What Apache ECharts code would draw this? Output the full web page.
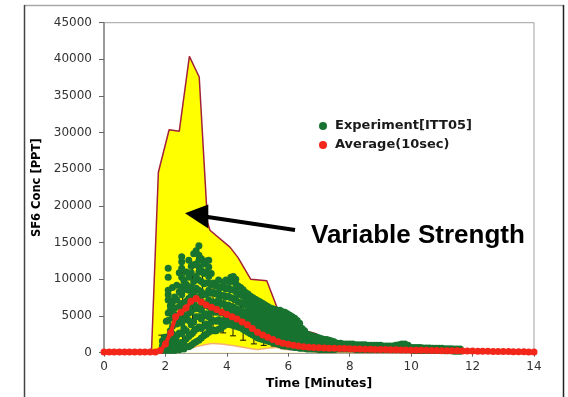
<!DOCTYPE html>
<html><head><meta charset="utf-8">
<script src="https://cdn.jsdelivr.net/npm/echarts@6/dist/echarts.min.js"></script>
<style>html,body{margin:0;padding:0;background:#fff}#c{width:568px;height:397px}</style>
</head><body><div id="c"></div>
<script>
// ---- data (minutes, PPT) ----
const envHiT = [0, 1.45, 1.55, 1.77, 2.12, 2.45, 2.78, 3.1, 3.37, 3.45, 4.1, 4.36, 4.78, 5.3, 5.65, 5.95, 6.3, 6.9, 7.25, 8.0, 9.0, 10.0, 12.0, 14.0];
const envHiV = [300, 300, 500, 24600, 30400, 30200, 40400, 37600, 17800, 16700, 14400, 13000, 10000, 9800, 6000, 4000, 3300, 2600, 1700, 700, 550, 450, 300, 200];
const envLoT = [0, 2.4, 2.6, 2.9, 3.2, 3.55, 3.9, 4.3, 4.7, 5.0, 5.3, 5.6, 5.9, 6.3, 6.7, 7.0, 14.0];
const envLoV = [0, 0, 300, 700, 1000, 1250, 1150, 900, 600, 450, 600, 700, 450, 400, 200, 0, 0];

const avgT = [0,0.17,0.33,0.5,0.67,0.83,1,1.17,1.33,1.5,1.67,1.83,2,2.17,2.33,2.5,2.67,2.83,3,3.17,3.33,3.5,3.67,3.83,4,4.17,4.33,4.5,4.67,4.83,5,5.17,5.33,5.5,5.67,5.83,6,6.17,6.33,6.5,6.67,6.83,7,7.17,7.33,7.5,7.67,7.83,8,8.17,8.33,8.5,8.67,8.83,9,9.17,9.33,9.5,9.67,9.83,10,10.17,10.33,10.5,10.67,10.83,11,11.17,11.33,11.5,11.67,11.83,12,12.17,12.33,12.5,12.67,12.83,13,13.17,13.33,13.5,13.67,13.83,14];
const avgV = [100,100,100,100,100,100,100,100,100,100,100,300,1200,2700,4900,5500,6100,7000,7400,6900,6500,6200,5900,5500,5200,4900,4600,4200,3800,3300,2800,2400,2100,1800,1500,1300,1150,1000,900,820,760,720,680,650,620,600,580,560,540,520,500,480,460,450,440,420,400,390,380,360,350,340,330,320,300,290,280,270,260,250,240,230,220,210,200,190,180,170,160,150,140,130,120,110,100];

const errT  = [1.87, 2.23, 2.56, 2.88, 3.21, 3.55, 3.88, 4.2, 4.53, 4.88, 5.2, 5.53, 5.84, 6.14, 6.45];
const errLo = [0, 0, 400, 2400, 2200, 2600, 2700, 2300, 1700, 1200, 1000, 900, 550, 400, 300];
const errHi = [2400, 7400, 11000, 11700, 11000, 9200, 7900, 7300, 6300, 4800, 3600, 2700, 1600, 1400, 1000];

const expT = [1.90,1.97,2.03,2.09,2.16,2.23,2.30,2.37,2.45,2.53,2.60,2.68,2.76,2.84,2.92,3.00,3.09,3.17,3.25,3.33,3.41,3.49,3.57,3.65,3.73,3.81,3.89,3.97,4.05,4.13,4.21,4.29,4.37,4.45,4.53,4.61,4.69,4.77,4.85,4.93,5.01,5.09,5.17,5.25,5.33,5.41,5.49,5.57,5.65,5.73,5.81,5.89,5.97,6.05,6.13,6.21,6.29,6.37,6.45,6.53,6.61,6.69,6.77,6.85,6.93,7.01,7.09,7.17,7.25,7.33,7.41,7.49,7.6,7.7,7.8,7.9,8.0,8.1,8.2,8.3,8.4,8.5,8.6,8.7,8.8,8.9,9.0,9.1,9.2,9.3,9.4,9.5,9.6,9.7,9.8,9.9,10.0,10.1,10.2,10.3,10.4,10.5,10.6,10.7,10.8,10.9,11.0,11.1,11.2,11.3,11.4,11.5,11.6];
const expV = [
[300,900,1600],[500,1300,2100],[300,1000,1800,4300],[600,1400,2200,4400,5400,7200,7900,8500,10300,11500],
[300,1100,1900,3000,5800,6400],[500,1300,2600,3600,4800,6900,8900],[300,900,1700,5200,6100,7600],[600,1500,2300,3900,7200,9200],
[400,1100,2700,4700,6300,8300,10900],[700,1400,2600,4000,5600,6700,7900,9000,10300,11500,12400,13100],[500,1500,3300,4500,6100,8600,9800],
[800,1900,3000,5000,7000,9300,11000],[800,2200,4400,5400,6300,7400,8500,10300,12600],[1000,2500,3800,5600,7700,9000,10900,11800],
[1300,2900,4200,6600,8200,9700,12000,13500],[1500,3200,4900,6000,7300,8800,10400,12100,13900],
[1700,3500,4900,6300,7600,8500,9900,11000,11700,12600,13300,14600],[2000,3300,4600,5800,7000,8300,9700,11200,12800],
[2300,3600,5000,6400,7900,9400,10800,12100],[2500,3900,5300,6600,8000,9500,11000,12500],[2800,3500,4900,6300,7200,8500,9500,10400,11700,12600],
[3000,4200,5500,6800,8100,9300,10800],[3100,4400,5600,6900,8200,9500],[3000,4300,5500,6700,8000,9100],[3200,4500,5800,7200,8100,9000,9900],
[3300,4100,5400,6600,7800,8900],[3600,4400,5500,6700,7800,9100,9600],[3800,4600,5500,6400,7600,8700,9900],[3900,4700,5500,6500,7700,8900,9800],
[3800,4600,5400,6300,7500,8600,9700,10300],[3700,4500,5300,6200,7400,8600,9800,10400],[3600,4400,5200,6000,7200,8300,9400,10000],
[3500,4300,5100,5900,6900,8000,9100],[3400,4200,5000,5800,6800,7900,8900],[3200,4000,4800,5600,6700,7700,8600],[3000,3800,4600,5500,6500,7500,8200],
[2800,3600,4500,5300,6300,7300,8000],[2600,3400,4300,5100,6100,7000,7700],[2400,3200,4100,4900,5900,6800,7500],[2200,3000,3900,4700,5700,6600,7300],
[2000,2800,3700,4500,5500,6400,7100],[1900,2700,3500,4300,5300,6200,6900],[1800,2600,3400,4200,5100,6000,6700],[1700,2500,3300,4100,5000,5900,6500],
[1600,2400,3200,4000,4900,5700,6300],[1500,2300,3100,3900,4800,5600,6100],[1400,2200,3000,3800,4700,5500,6000],[1300,2100,2900,3700,4600,5400,5900],
[1200,2000,2800,3600,4500,5300,5800],[1100,1900,2700,3500,4400,5200,5800],[1000,1800,2600,3400,4300,5100,5600],[900,1700,2500,3300,4200,5000,5500],
[900,1600,2400,3200,4000,4800,5300],[800,1500,2200,3000,3800,4600,5100],[800,1400,2100,2900,3700,4500,4900],[700,1300,2000,2800,3500,4300,4700],
[700,1300,1900,2600,3300,4000,4400],[600,1200,1800,2400,3000,3600,4000],[600,1100,1700,2200,2800,3300],[600,1100,1600,2100,2600,3000],
[500,1000,1500,2000,2500],[500,1000,1500,2000,2400],[500,900,1400,1900,2300],[500,900,1300,1800,2200],[500,900,1300,1700,2100],
[400,800,1200,1600,2000],[400,800,1200,1600,1900],[400,800,1100,1500,1800],[400,700,1100,1400,1800],[400,700,1000,1400,1700],
[400,700,1000,1300,1600],[400,700,1000,1300,1500],
[500,900,1300],[500,900,1300],[500,900,1200],[500,900,1200],[500,900,1200],[500,800,1200],[400,800,1100],[400,800,1100],[400,800,1100],[400,800,1100],
[400,800,1000],[400,700,1000],[400,700,1000],[400,700,1000],[400,700,1000],[400,700,900],[400,700,900],[400,700,900],[400,700,900],[400,700,1000],
[400,800,1100],[400,800,1200],[400,800,1200],[400,700,1000],
[400,700],[300,700],[300,700],[300,700],[300,650],[300,650],[300,650],[300,600],[300,600],[300,600],[300,600],[250,550],[250,550],[250,550],[200,500],[200,500],[200,500]
];
const yTicks = [0,5000,10000,15000,20000,25000,30000,35000,40000,45000];
const xTicks = [0,2,4,6,8,10,12,14];

// ---- build ----
const pairs = (a, b) => a.map((t, i) => [t, b[i]]);
const expData = [];
expT.forEach((t, i) => expV[i].forEach(v => expData.push([t, v])));
const errData = errT.map((t, i) => [t, errLo[i], errHi[i]]);

const chart = echarts.init(document.getElementById('c'), null, {renderer: 'canvas'});
const FONT = 'DejaVu Sans';
chart.setOption({
  animation: false,
  backgroundColor: '#fff',
  grid: {left: 104, right: 34, top: 22.7, bottom: 44.3, show: true, borderColor: '#a0a0a0', borderWidth: 1},
  legend: {
    orient: 'vertical', left: 314, top: 114, itemGap: 5, itemWidth: 14, itemHeight: 8,
    icon: 'circle',
    data: ['Experiment[ITT05]', 'Average(10sec)'],
    textStyle: {fontFamily: FONT, fontWeight: 'bold', fontSize: 13, color: '#1a1a1a', lineHeight: 14}
  },
  xAxis: {
    type: 'value', min: xTicks[0], max: xTicks[xTicks.length - 1], interval: 2,
    name: 'Time [Minutes]', nameLocation: 'middle', nameGap: 24,
    nameTextStyle: {fontFamily: FONT, fontWeight: 'bold', fontSize: 12.5, color: '#000'},
    axisLine: {lineStyle: {color: '#888', width: 1.5}},
    axisTick: {show: true, inside: false, length: 4, lineStyle: {color: '#666'}},
    axisLabel: {fontFamily: FONT, fontSize: 12, color: '#333', margin: 8},
    splitLine: {show: false}
  },
  yAxis: {
    type: 'value', min: yTicks[0], max: yTicks[yTicks.length - 1], interval: 5000,
    name: 'SF6 Conc [PPT]', nameLocation: 'middle', nameGap: 49, nameRotate: 90,
    nameTextStyle: {fontFamily: FONT, fontWeight: 'bold', fontSize: 11.5, color: '#000'},
    axisLine: {show: true, lineStyle: {color: '#888', width: 1.5}},
    axisTick: {show: true, inside: false, length: 5, lineStyle: {color: '#666'}},
    axisLabel: {fontFamily: FONT, fontSize: 12, color: '#333', margin: 12, formatter: v => String(v)},
    splitLine: {show: false}
  },
  series: [
    {name: 'envHi', type: 'line', data: pairs(envHiT, envHiV), symbol: 'none', z: 1,
     lineStyle: {color: '#a3203a', width: 1.5}, areaStyle: {color: '#ffff00', opacity: 1}},
    {name: 'envLo', type: 'line', data: pairs(envLoT, envLoV), symbol: 'none', z: 2, smooth: 0.3,
     lineStyle: {color: '#f6b070', width: 1.5}, areaStyle: {color: '#ffffff', opacity: 1}},
    {name: 'err', type: 'custom', z: 3, data: errData, encode: {x: 0, y: [1, 2]},
     renderItem: function (params, api) {
       const p1 = api.coord([api.value(0), api.value(1)]);
       const p2 = api.coord([api.value(0), api.value(2)]);
       const st = {stroke: '#111', lineWidth: 1};
       return {type: 'group', children: [
         {type: 'line', shape: {x1: p1[0], y1: p1[1], x2: p2[0], y2: p2[1]}, style: st},
         {type: 'line', shape: {x1: p1[0] - 3, y1: p1[1], x2: p1[0] + 3, y2: p1[1]}, style: st},
         {type: 'line', shape: {x1: p2[0] - 3, y1: p2[1], x2: p2[0] + 3, y2: p2[1]}, style: st}
       ]};
     }},
    {name: 'Experiment[ITT05]', type: 'scatter', data: expData, z: 4, symbol: 'circle', symbolSize: 7,
     itemStyle: {color: '#17732f', opacity: 1}},
    {name: 'Average(10sec)', type: 'line', data: pairs(avgT, avgV), z: 5, symbol: 'circle', symbolSize: 7,
     showAllSymbol: true, itemStyle: {color: '#f3261a', opacity: 1}, lineStyle: {color: '#f3261a', width: 4}}
  ],
  graphic: [
    {type: 'line', shape: {x1: 24, y1: 5.5, x2: 564, y2: 5.5}, style: {stroke: '#a8a8a8', lineWidth: 1.5}},
    {type: 'line', shape: {x1: 24.5, y1: 5, x2: 24.5, y2: 397}, style: {stroke: '#444', lineWidth: 1.5}},
    {type: 'line', shape: {x1: 563.5, y1: 5, x2: 563.5, y2: 397}, style: {stroke: '#222', lineWidth: 1.5}},
    {type: 'line', z: 100, shape: {x1: 206, y1: 216.7, x2: 295, y2: 230}, style: {stroke: '#000', lineWidth: 4}},
    {type: 'polygon', z: 100, shape: {points: [[185, 213.3], [208.3, 204.5], [208.3, 228.5]]}, style: {fill: '#000'}},
    {type: 'text', z: 100, left: 311, top: 223, style: {text: 'Variable Strength', fontFamily: 'Liberation Sans', fontWeight: 'bold', fontSize: 26, fill: '#000'}}
  ]
});
</script></body></html>
